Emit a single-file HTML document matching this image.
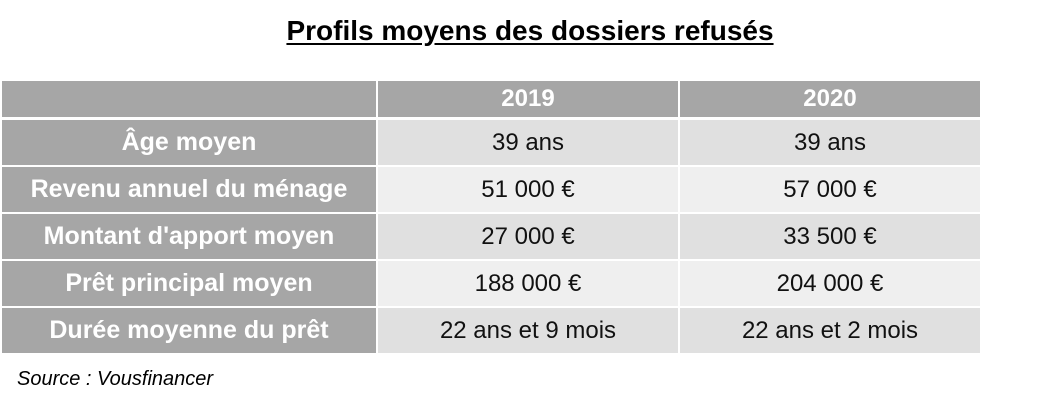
<!DOCTYPE html>
<html><head><meta charset="utf-8"><style>
body{margin:0;width:1056px;height:407px;background:#fff;font-family:"Liberation Sans",sans-serif;position:relative;overflow:hidden}
h1{position:absolute;left:0;width:1060px;top:15px;margin:0;text-align:center;font-size:28px;font-weight:bold;text-decoration:underline;text-underline-offset:3px;color:#000}
table{position:absolute;left:2px;top:81px;border-collapse:separate;border-spacing:2px 0;margin-left:-2px}
td{height:45px;text-align:center;font-size:24px;padding:0;border-bottom:2px solid #fff;color:#111}
td.l{width:374px;background:#a6a6a6;color:#fff;font-weight:bold;font-size:25px}
td.v{width:300px}
tr.h td{height:36px;background:#a6a6a6;color:#fff;font-weight:bold;border-bottom:3px solid #fff;font-size:24px}
tr.d td.v{background:#e0e0e0}
tr.e td.v{background:#efefef}
.src{position:absolute;left:17px;top:368px;font-size:20px;font-style:italic}
</style></head><body>
<h1>Profils moyens des dossiers refusés</h1>
<table>
<tr class="h"><td class="l"></td><td class="v" style="width:299px">2019</td><td class="v">2020</td></tr>
<tr class="d"><td class="l">Âge moyen</td><td class="v">39 ans</td><td class="v">39 ans</td></tr>
<tr class="e"><td class="l">Revenu annuel du ménage</td><td class="v">51 000 €</td><td class="v">57 000 €</td></tr>
<tr class="d"><td class="l">Montant d'apport moyen</td><td class="v">27 000 €</td><td class="v">33 500 €</td></tr>
<tr class="e"><td class="l">Prêt principal moyen</td><td class="v">188 000 €</td><td class="v">204 000 €</td></tr>
<tr class="d"><td class="l">Durée moyenne du prêt</td><td class="v">22 ans et 9 mois</td><td class="v">22 ans et 2 mois</td></tr>
</table>
<div class="src">Source : Vousfinancer</div>
</body></html>
